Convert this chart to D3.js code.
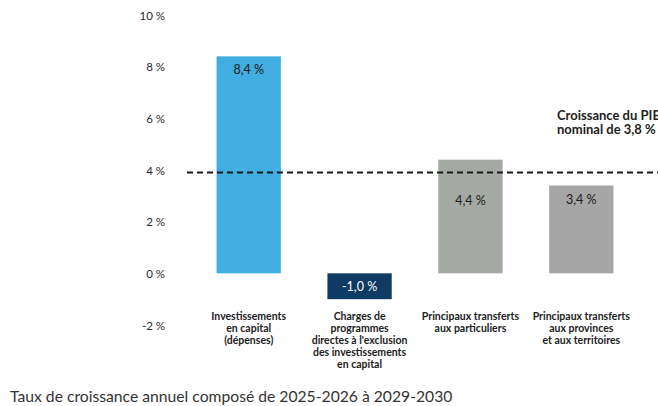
<!DOCTYPE html>
<html>
<head>
<meta charset="utf-8">
<script src="https://cdn.jsdelivr.net/npm/d3@7"></script>
<style>
  html,body{margin:0;padding:0;background:#fff;}
  svg{display:block;font-family:Lato,"Open Sans",sans-serif;}
  .tick-lbl{font-size:11.5px;fill:#2a2a2a;}
  .val{font-size:12.5px;}
  .cat{font-size:10.5px;font-weight:bold;fill:#222;}
  .note{font-size:13px;font-weight:bold;fill:#222;}
  .title{font-size:15.7px;fill:#333;}
</style>
</head>
<body>
<svg id="chart"></svg>
<script>
'use strict';
// categories (one label line per array entry), values in %
const categories=[
  ['Investissements','en capital','(dépenses)'],
  ['Charges de','programmes','directes à l\'exclusion','des investissements','en capital'],
  ['Principaux transferts','aux particuliers'],
  ['Principaux transferts','aux provinces','et aux territoires']
];
const values=[8.4,-1.0,4.4,3.4];
const valueLabels=['8,4 %','-1,0 %','4,4 %','3,4 %'];
const barColors=['#41ade0','#0f3a63','#a4aaa3','#a6a6a6'];
const labelColors=['#1a1a1a','#ffffff','#1a1a1a','#1a1a1a'];
const yTicks=[-2,0,2,4,6,8,10];
const gdpLine=3.9;   // where the dashed line sits in the picture
const gdpNote=['Croissance du PIB','nominal de 3,8 %'];
const title='Taux de croissance annuel composé de 2025-2026 à 2029-2030';

const W=658,H=406;
const svg=d3.select('#chart').attr('width',W).attr('height',H);

const y=d3.scaleLinear().domain([-2,10]).range([325,15]);
const x=d3.scaleBand().domain(d3.range(values.length)).range([170,660]).paddingInner(0.42).paddingOuter(0.42);

// y tick labels only (no axis line)
svg.selectAll('.tick-lbl').data(yTicks).join('text').attr('class','tick-lbl')
  .attr('x',165).attr('y',d=>y(d)).attr('text-anchor','end').attr('dominant-baseline','central')
  .text(d=>d+' %');

// bars
svg.selectAll('.bar').data(values).join('rect').attr('class','bar')
  .attr('x',(d,i)=>x(i)).attr('width',x.bandwidth())
  .attr('y',d=>y(Math.max(0,d))).attr('height',d=>Math.abs(y(d)-y(0)))
  .attr('fill',(d,i)=>barColors[i]);

// dashed GDP line
const ly=y(gdpLine);
svg.append('line').attr('x1',187).attr('x2',W).attr('y1',ly).attr('y2',ly)
  .attr('stroke','#1a1a1a').attr('stroke-width',2).attr('stroke-dasharray','6,4');

// value labels: near top of bar, pushed below the dashed line when they'd collide
svg.selectAll('.val').data(values).join('text').attr('class','val')
  .attr('x',(d,i)=>x(i)+x.bandwidth()/2)
  .attr('y',d=>{
    if(d<0) return (y(0)+y(d))/2;
    let p=y(d)+13.5;
    if(Math.abs(p-ly)<12) p=ly+28;
    return p;
  })
  .attr('text-anchor','middle').attr('dominant-baseline','central')
  .attr('fill',(d,i)=>labelColors[i]).text((d,i)=>valueLabels[i]);

// category labels under the chart
const cat=svg.selectAll('.cat').data(categories).join('text').attr('class','cat')
  .attr('text-anchor','middle');
cat.selectAll('tspan').data((d,i)=>d.map(s=>({s,i}))).join('tspan')
  .attr('x',d=>x(d.i)+x.bandwidth()/2).attr('y',(d,j)=>320+j*12).text(d=>d.s);

// GDP note
svg.append('text').attr('class','note').selectAll('tspan').data(gdpNote).join('tspan')
  .attr('x',557).attr('y',(d,j)=>120+j*14).text(d=>d);

svg.append('text').attr('class','title').attr('x',10).attr('y',402).text(title);
</script>
</body>
</html>
